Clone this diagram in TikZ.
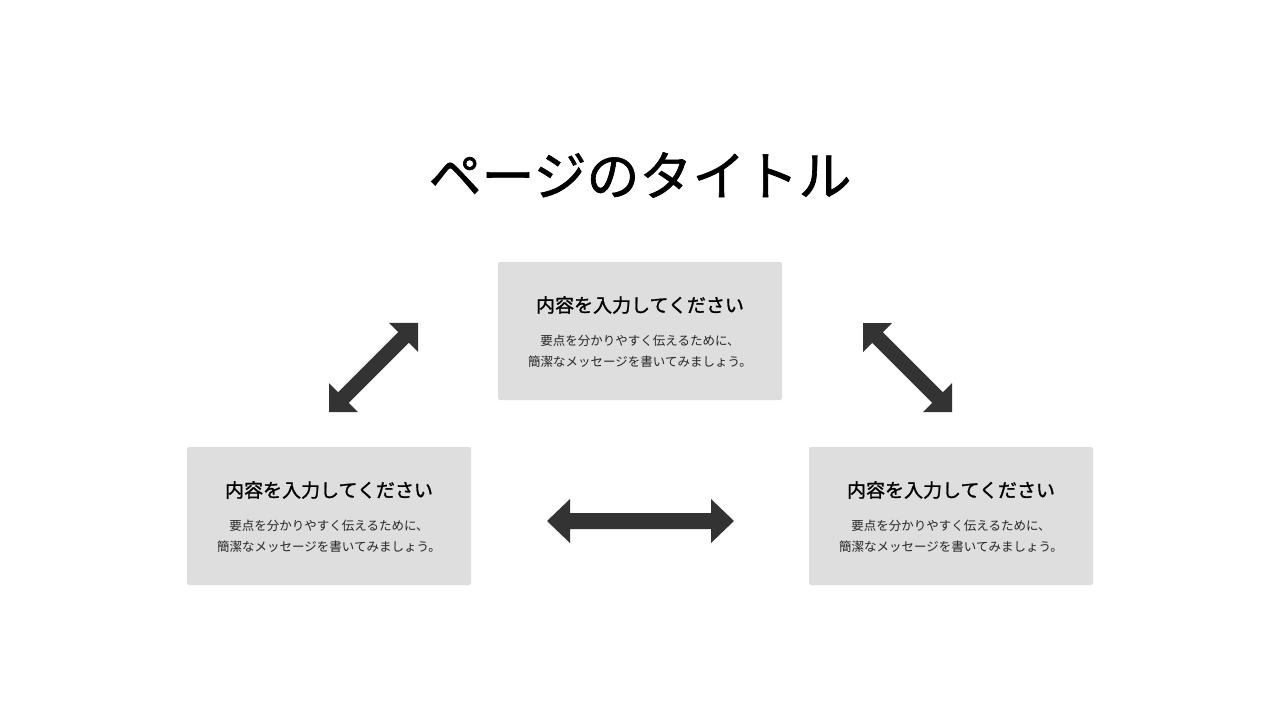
\documentclass[tikz,border=0pt]{standalone}
\usepackage{fontspec}
\newfontfamily\jp{Noto Sans CJK JP}
\newfontfamily\jpmed[FakeBold=1.2]{Noto Sans CJK JP}
\begin{document}
\begin{tikzpicture}[x=1pt,y=-1pt,
  card/.style={fill=cardgray,draw=none,rounded corners=2pt},
  head/.style={font=\jpmed\fontsize{19}{22}\selectfont,text=black},
  body/.style={font=\jp\fontsize{12.5}{21}\selectfont,align=center,text=black!85},
  arr/.style={fill=arrgray,draw=none}]
\definecolor{cardgray}{HTML}{DEDEDE}
\definecolor{arrgray}{HTML}{333333}
\useasboundingbox (0,0) rectangle (1280,720);
\fill[white] (0,0) rectangle (1280,720);
\node[font=\jpmed\fontsize{53}{60}\selectfont] (title) at (640,175) {ページのタイトル};
\newcommand{\dbl}[4]{% L h w s
  \fill[arr] (0,0) -- (#2,-#3) -- (#2,-#4) -- (#1-#2,-#4) -- (#1-#2,-#3) -- (#1,0)
     -- (#1-#2,#3) -- (#1-#2,#4) -- (#2,#4) -- (#2,#3) -- cycle;}
\foreach \n/\x/\y in {top/498/262,left/187/447,right/809/447}{
  \fill[card] (\x,\y) rectangle ++(284,138);
  \node[head] (\n h) at (\x+142,\y+43) {内容を入力してください};
  \node[body] (\n b) at (\x+142,\y+89) {要点を分かりやすく伝えるために、\\簡潔なメッセージを書いてみましょう。};
}
\begin{scope}[shift={(547,521)}]\dbl{187}{23}{22}{8}\end{scope}
\begin{scope}[shift={(329,412)},rotate=45]\dbl{125.9}{20.5}{20.5}{7.5}\end{scope}
\begin{scope}[shift={(863,323)},rotate=-45]\dbl{125.9}{20.5}{20.5}{7.5}\end{scope}
\end{tikzpicture}
\end{document}
